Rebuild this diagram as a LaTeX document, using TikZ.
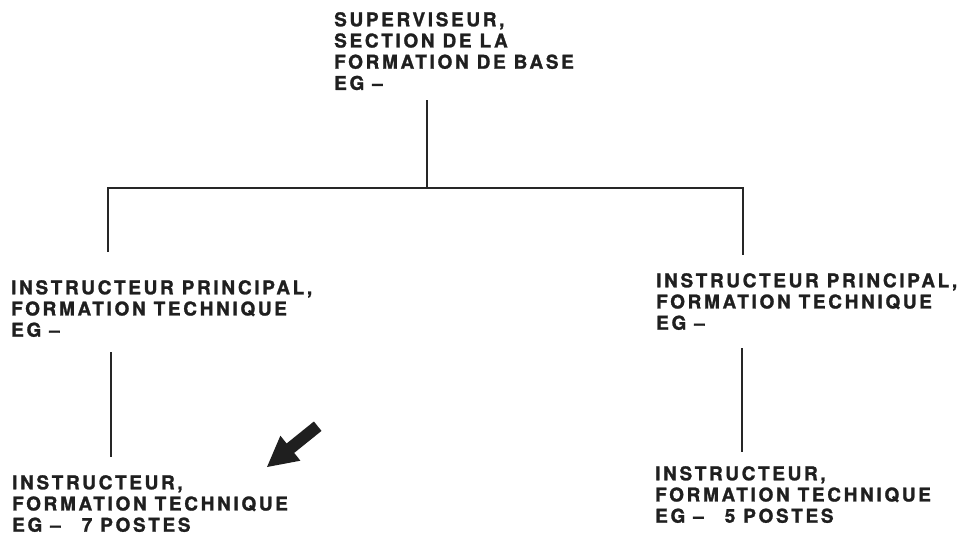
\documentclass[tikz,border=0pt]{standalone}
\usepackage{fontspec}
\newfontfamily\orgfont{TeX Gyre Heros}[LetterSpace=14,BoldFeatures={FakeBold=1.3}]
\begin{document}
\begin{tikzpicture}[x=1pt,y=-1pt,
  post/.style={anchor=north west,inner sep=0pt,align=left,
    font=\orgfont\bfseries\fontsize{19}{21.2}\selectfont,text=black!88},
  conn/.style={line width=1.6pt,draw=black!85}]
\useasboundingbox (0,0) rectangle (969,544);

% titles of the posts
\node[post] (sup) at (334,12) {SUPERVISEUR,\\SECTION DE LA\\FORMATION DE BASE\\EG –};
\node[post] (ipl) at (11,280) {INSTRUCTEUR PRINCIPAL,\\FORMATION TECHNIQUE\\EG –};
\node[post] (ipr) at (656,273) {INSTRUCTEUR PRINCIPAL,\\FORMATION TECHNIQUE\\EG –};
\node[post] (inl) at (12,475) {INSTRUCTEUR,\\FORMATION TECHNIQUE\\EG –\hspace{1.1em}7 POSTES};
\node[post] (inr) at (655,466) {INSTRUCTEUR,\\FORMATION TECHNIQUE\\EG –\hspace{1.1em}5 POSTES};

% line end points
\coordinate (supfoot) at (427,100);
\coordinate (jtop) at (427,188);
\coordinate (jl) at (108,188);
\coordinate (jr) at (743,188);
\coordinate (iplhead) at (108,252);
\coordinate (iprhead) at (743,255);
\coordinate (iplfoot) at (111,352);
\coordinate (inlhead) at (111,457);
\coordinate (iprfoot) at (742,348);
\coordinate (inrhead) at (742,452);

% connectors
\draw[conn] (supfoot) -- (jtop);
\draw[conn] (iplhead) -- (jl) -- (jr) -- (iprhead);
\draw[conn] (iplfoot) -- (inlhead);
\draw[conn] (iprfoot) -- (inrhead);

% block arrow pointing at the seven posts
\fill[black!88] (267,467) -- (280.4,435.7) -- (286.6,443.5) -- (313.9,421.5)
  -- (321.5,430.9) -- (294.2,452.9) -- (300.4,460.7) -- cycle;
\end{tikzpicture}
\end{document}
